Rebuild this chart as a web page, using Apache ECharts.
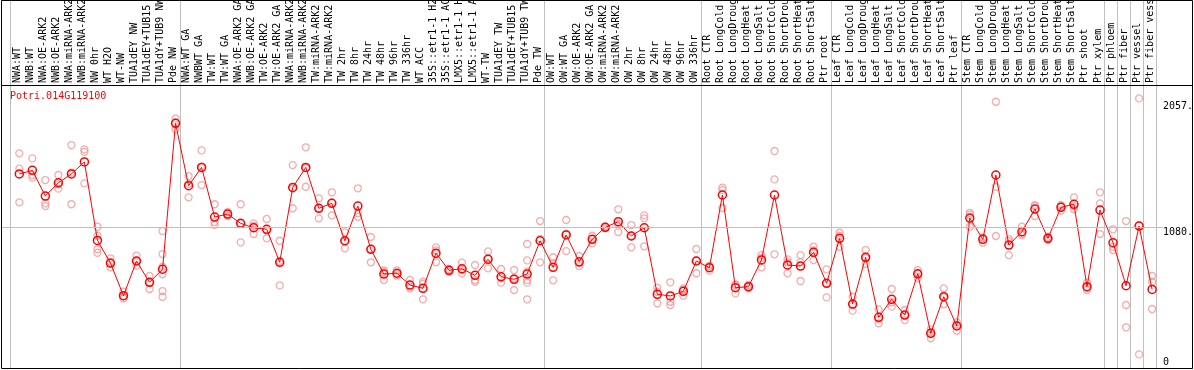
<!DOCTYPE html>
<html><head><meta charset="utf-8">
<script src="https://cdn.jsdelivr.net/npm/echarts@6/dist/echarts.min.js"></script>
<style>html,body{margin:0;padding:0;background:#fff}#c{width:1194px;height:370px}</style>
</head><body><div id="c"></div>
<script>
const title = 'Potri.014G119100';
const categories = [
"NWA:WT","NWB:WT","NWA:OE-ARK2","NWB:OE-ARK2","NWA:miRNA-ARK2","NWB:miRNA-ARK2","NW 0hr","WT H2O","WT-NW","TUA1dEY NW","TUA1dEY+TUB15 NW","TUA1dY+TUB9 NW","Pde NW",
"NWA:WT GA","NWBWT GA","TW:WT","TW:WT GA","NWA:OE-ARK2 GA","NWB:OE-ARK2 GA","TW:OE-ARK2","TW:OE-ARK2 GA","NWA:miRNA-ARK2","NWB:miRNA-ARK2","TW:miRNA-ARK2","TW:miRNA-ARK2","TW 2hr","TW 8hr","TW 24hr","TW 48hr","TW 96hr","TW 336hr","WT ACC","35S::etr1-1 H2O","35S::etr1-1 ACC","LMX5::etr1-1 H2O","LMX5::etr1-1 ACC","WT-TW","TUA1dEY TW","TUA1dEY+TUB15 TW","TUA1dY+TUB9 TW","Pde TW",
"OW:WT","OW:WT GA","OW:OE-ARK2","OW:OE-ARK2 GA","OW:miRNA-ARK2","OW:miRNA-ARK2","OW 2hr","OW 8hr","OW 24hr","OW 48hr","OW 96hr","OW 336hr",
"Root CTR","Root LongCold","Root LongDrought","Root LongHeat","Root LongSalt","Root ShortCold","Root ShortDrought","Root ShortHeat","Root ShortSalt","Ptr root",
"Leaf CTR","Leaf LongCold","Leaf LongDrought","Leaf LongHeat","Leaf LongSalt","Leaf ShortCold","Leaf ShortDrought","Leaf ShortHeat","Leaf ShortSalt","Ptr leaf",
"Stem CTR","Stem LongCold","Stem LongDrought","Stem LongHeat","Stem LongSalt","Stem ShortCold","Stem ShortDrought","Stem ShortHeat","Stem ShortSalt","Ptr shoot","Ptr xylem",
"Ptr phloem","Ptr fiber","Ptr vessel","Ptr fiber vessel"
];
const groupStarts = [0, 13, 41, 53, 63, 73, 84, 85, 86, 87];
const means = [
1497,1525,1326,1429,1497,1590,982,806,553,822,657,758,1890,
1406,1548,1163,1186,1114,1080,1068,812,1393,1548,1231,1269,979,1248,913,721,727,636,610,882,750,762,711,835,700,680,721,979,
773,1024,816,990,1083,1127,1016,1080,564,551,587,822,
770,1334,615,623,830,1334,791,783,889,649,
998,488,851,385,525,403,723,261,545,318,
1155,990,1489,946,1049,1225,998,1238,1262,623,1217,
964,630,1093,602
];
const reps = [
[1657,1538,1277],[1618,1489,1469],[1450,1269,1248],[1489,1417,1383],[1721,1507,1262],[1688,1669,1424],
[1088,1018,913,886],[843,806,773],[584,551,533],[863,822,785],[706,659,605],[1055,876,778,719,589,545],[1928,1897,1843],
[1481,1420,1316],[1680,1554,1411],[1262,1124,1103],[1202,1186,1171],[1262,1114,967],[1114,1095,1031],[1148,1057,998],
[979,822,633],[1566,1383,1231],[1704,1543,1398],[1308,1231,1153],[1355,1277,1176],[1044,975,920],[1386,1194,1165],
[1008,917,812],[750,739,675],[750,721,708],[675,623,610],[661,644,525],[928,905,812],[760,752,737],[809,752,727],
[791,675,661],[897,843,765],[760,688,654],[752,690,597],[954,827,739,675,654,525],[1132,994,812],
[851,806,672],[1140,1031,899],[861,806,783],[1018,992,959],[1088,1086,1075],[1223,1111,1047],[1101,1018,928],
[1176,1153,936],[615,582,494],[657,506,481],[610,597,553],[915,824,727],
[785,778,747],[1390,1372,1233],[638,636,571],[636,623,610],[868,847,773],[1675,1455,874],[835,812,727],
[868,814,667],[933,905,830],[757,649,540],
[1041,1018,933],[545,483,437],[907,845,799],[447,370,339],[605,502,468],[442,403,364],[752,723,688],
[292,269,223],[610,540,486],[347,326,281],
[1196,1182,1088],[1003,1003,964],[2057,1398,1016],[992,977,868],[1088,1036,1024],[1256,1248,1171],
[1010,998,985],[1256,1246,1212],[1316,1246,1223],[654,618,597],[1355,1269,1031],
[1068,933,907],[1132,481,308],[2083,1098,98],[706,661,450]
];
const yTickValues = [0, 1080, 2057];
const yTickLabels = ['0', '1080.', '2057.'];
const refLineValue = 1080;

const Y_MAX = 2187;
const FONT = 'DejaVu Sans Mono';
const GREY = '#c0c0c0';

const repPoints = [];
reps.forEach((arr, i) => arr.forEach(v => repPoints.push([i, v])));

const chart = echarts.init(document.getElementById('c'), null, {renderer: 'canvas'});
const labelFmt = v => yTickLabels[yTickValues.indexOf(v)];

chart.setOption({
  animation: false,
  backgroundColor: '#fff',
  title: {
    text: title, left: 10, top: 91, padding: 0,
    textStyle: {color: '#ff0000', fontSize: 10, fontWeight: 'normal', fontFamily: FONT}
  },
  grid: [
    {left: 1, right: 31, top: 85, bottom: 3, outerBoundsMode: 'none', containLabel: false},
    {left: 10.7, right: 37.5, top: 0, bottom: 1, outerBoundsMode: 'none', containLabel: false},
    {left: 12.8, right: 35.4, top: 85, bottom: 3, outerBoundsMode: 'none', containLabel: false}
  ],
  xAxis: [
    {gridIndex: 0, type: 'value', min: 0, max: 1, show: false},
    {
      gridIndex: 1, type: 'category', data: categories, position: 'top', offset: -85, boundaryGap: true,
      axisLine: {show: false, onZero: false}, axisTick: {show: false},
      axisLabel: {interval: 0, rotate: -90, align: 'left', verticalAlign: 'middle', margin: 2,
        fontSize: 10, fontFamily: FONT, color: '#000'},
      splitLine: {show: true, interval: (i) => groupStarts.includes(i), lineStyle: {color: GREY, width: 1}}
    },
    {gridIndex: 2, type: 'category', data: categories, boundaryGap: true, show: false, axisLine: {onZero: false}}
  ],
  yAxis: [
    {
      gridIndex: 0, type: 'value', min: 0, max: Y_MAX, position: 'right',
      axisLine: {show: false}, axisTick: {show: false}, splitLine: {show: false},
      axisLabel: {customValues: yTickValues.slice(1), formatter: labelFmt, verticalAlign: 'top', margin: 0,
        fontSize: 10, fontFamily: FONT, color: '#000'}
    },
    {
      gridIndex: 0, type: 'value', min: 0, max: Y_MAX, position: 'right',
      axisLine: {show: false}, axisTick: {show: false}, splitLine: {show: false},
      axisLabel: {customValues: yTickValues.slice(0, 1), formatter: labelFmt, verticalAlign: 'bottom', margin: 0,
        fontSize: 10, fontFamily: FONT, color: '#000'}
    },
    {gridIndex: 1, type: 'value', min: 0, max: 1, show: false},
    {gridIndex: 2, type: 'value', min: 0, max: Y_MAX, show: false}
  ],
  series: [
    {
      type: 'line', xAxisIndex: 0, yAxisIndex: 0, data: [], silent: true,
      markLine: {silent: true, symbol: 'none', animation: false, label: {show: false},
        lineStyle: {color: GREY, width: 1, type: 'solid'}, data: [{yAxis: refLineValue}]}
    },
    {
      type: 'scatter', xAxisIndex: 2, yAxisIndex: 3, data: repPoints, symbol: 'circle', symbolSize: 7, z: 2,
      itemStyle: {color: 'rgba(0,0,0,0)', borderColor: '#f09999', borderWidth: 1.3}
    },
    {
      type: 'line', xAxisIndex: 2, yAxisIndex: 3, data: means, symbol: 'circle', symbolSize: 8, showAllSymbol: true, z: 3,
      itemStyle: {color: 'rgba(0,0,0,0)', borderColor: '#ff0000', borderWidth: 1.5},
      lineStyle: {color: '#ff0000', width: 1}
    }
  ],
  graphic: [
    {type: 'rect', silent: true, z: 100, shape: {x: 1.5, y: 0.5, width: 1191, height: 368}, style: {fill: 'none', stroke: '#000', lineWidth: 1}},
    {type: 'line', silent: true, z: 100, shape: {x1: 1, y1: 85.5, x2: 1193, y2: 85.5}, style: {stroke: '#000', lineWidth: 1}}
  ]
});
</script>
</body></html>
